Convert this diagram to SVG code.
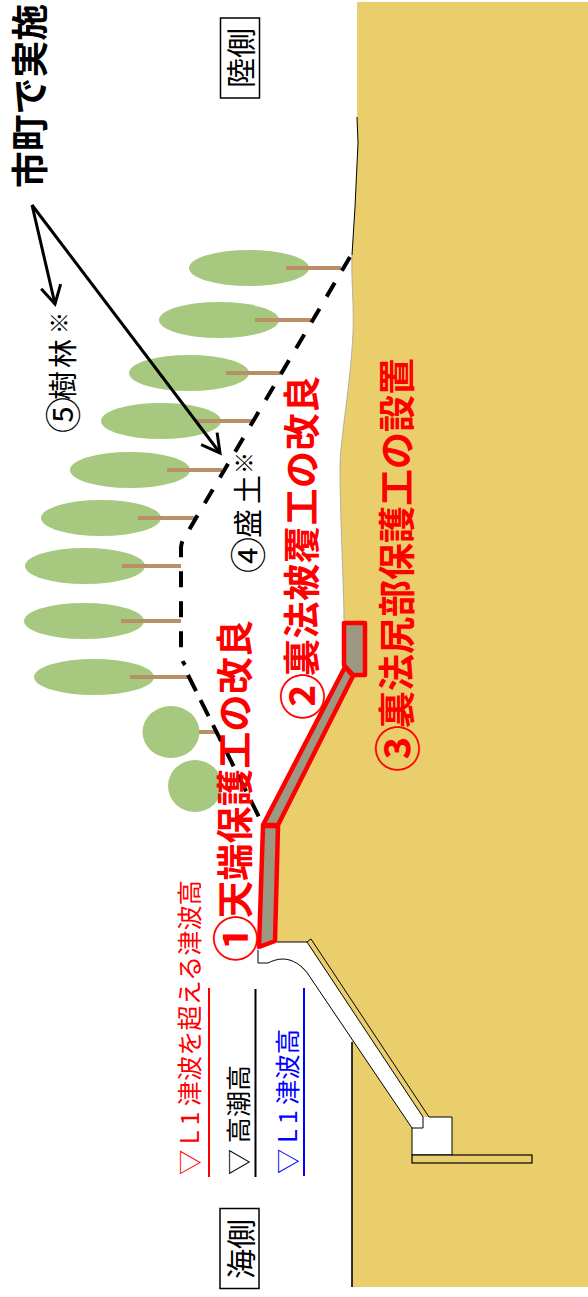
<svg xmlns="http://www.w3.org/2000/svg" width="588" height="1297" viewBox="0 0 588 1297">
<style>
text{font-family:"Noto Sans CJK JP","Noto Sans",sans-serif;text-anchor:start}
.b{font-weight:700;font-size:37px}
.c{font-size:47px}
.r{fill:#f00}
.k{fill:#000}
.u{fill:#00f}
.n{font-size:25px}
.tree{fill:#a6c97f}
.trunk{stroke:#b98f68;stroke-width:4;fill:none}
.thin{stroke:#000;stroke-width:1;fill:none}
.lvl{stroke-width:2;fill:none}
.dam{fill:#9c9882;stroke:#f00;stroke-width:4.500;stroke-linejoin:round}
.dash{fill:none;stroke:#000;stroke-width:4}
</style>
<defs>
<marker id="a" markerUnits="userSpaceOnUse" markerWidth="26" markerHeight="26" refX="21" refY="13" orient="auto"><path d="M3,3 L21,13 L3,23" fill="none" stroke="#000" stroke-width="3"/></marker>
</defs>
<g id="ground">
<path d="M357,2 L588,2 L588,1287 L352,1287 L352,1040 L310,977 L277,942 L278,825 L345,667 L344,620 C344,590 340,520 340,467 C340,440 350,390 353,333 C354,300 351,280 352,255 L355,207 L358,143 L357,117 Z" fill="#eace6c"/>
<path d="M357,117 L358,143 L355,207 L352,255" class="thin" stroke-width="1.200"/>
<path d="M344,620 C344,590 340,520 340,467 C340,440 350,390 353,333 C354,300 351,280 352,255" fill="none" stroke="#999" stroke-width="0.700"/>
<path d="M352,1042 L352,1287" fill="none" stroke="#000" stroke-width="1.600"/>
</g>
<g id="seawall">
<path d="M258,950 L258,963 L268,963 C272,961 277,959 283,959 C292,959 303,965 310,977 L412,1128 L412,1155 L452,1155 L452,1117 L423,1117 L307,942 L277,942 Z" fill="#fff"/>
<path d="M277,942 L307,942 L311,939 L429,1117 L452,1117 L452,1155 L412,1155 L412,1128 L310,977 C303,965 292,959 283,959 C277,959 272,961 268,963 L258,963 L258,950" class="thin"/>
<path d="M307,942 L423,1117 L423,1128 L412,1128" class="thin"/>
<rect x="412" y="1155" width="120" height="8" fill="#eace6c" stroke="#000" stroke-width="1.200"/>
</g>
<g id="trees">
<ellipse class="tree" cx="249" cy="268" rx="60" ry="18"/>
<ellipse class="tree" cx="219" cy="320" rx="60" ry="18"/>
<ellipse class="tree" cx="189" cy="373" rx="60" ry="18"/>
<ellipse class="tree" cx="161" cy="421" rx="60" ry="18"/>
<ellipse class="tree" cx="130" cy="470" rx="60" ry="18"/>
<ellipse class="tree" cx="101" cy="518" rx="60" ry="18"/>
<ellipse class="tree" cx="85" cy="566" rx="60" ry="18"/>
<ellipse class="tree" cx="84" cy="621" rx="60" ry="18"/>
<ellipse class="tree" cx="94" cy="677" rx="60" ry="18"/>
<ellipse class="tree" cx="171" cy="732" rx="28.500" ry="26"/>
<ellipse class="tree" cx="195" cy="786" rx="27" ry="26"/>
<path class="trunk" d="M286,268H341M255,320H311M226,373H281M195,421H253M167,470H222M138,518H195M122,566H181M121,621H181M130,677H189M199,732H218"/>
</g>
<g id="connectors">
<path class="dash" d="M350,257 L186,535 Q181,542 181,548 L181,652 Q181,660 185,665" stroke-dasharray="16 14"/>
<path class="dash" d="M188,675 L262,823" stroke-dasharray="18 10"/>
<path d="M32,205 L55,304" fill="none" stroke="#000" stroke-width="3" marker-end="url(#a)"/>
<path d="M32,205 L220,453" fill="none" stroke="#000" stroke-width="3" marker-end="url(#a)"/>
</g>
<g id="measures">
<polygon class="dam" points="344,623 365,623 365,675 353,675 344,665"/>
<polygon class="dam" points="345,667 353,676 278,825 263,825"/>
<polygon class="dam" points="263,826 278,826 275,941 259,947"/>
</g>
<g id="levels">
<path class="lvl" stroke="#f00" d="M209,988V1177"/>
<path class="lvl" stroke="#000" d="M255.500,989V1177"/>
<path class="lvl" stroke="#00f" d="M304,988V1176"/>
<text class="n r" transform="translate(199,1175) rotate(-90)" textLength="295" lengthAdjust="spacingAndGlyphs">▽ <tspan letter-spacing="5">L1</tspan>津波を超える津波高</text>
<text class="n k" transform="translate(248,1175) rotate(-90)" textLength="110" lengthAdjust="spacingAndGlyphs">▽ 高潮高</text>
<text class="n u" transform="translate(297,1174) rotate(-90)" textLength="145" lengthAdjust="spacingAndGlyphs">▽ <tspan letter-spacing="5">L1</tspan>津波高</text>
</g>
<g id="labels">
<text class="b r" transform="translate(249,958) rotate(-90)"><tspan class="c" x="-4" dy="4">①</tspan><tspan x="40" dy="-4" letter-spacing="0.300">天端保護工の改良</tspan></text>
<text class="b r" transform="translate(316,716) rotate(-90)"><tspan class="c" x="-4" dy="4">②</tspan><tspan x="40" dy="-4" letter-spacing="0.600">裏法被覆工の改良</tspan></text>
<text class="b r" transform="translate(411,768) rotate(-90)"><tspan class="c" x="-4" dy="4">③</tspan><tspan x="40" dy="-4">裏法尻部保護工の設置</tspan></text>
<text class="b k" transform="translate(44,188) rotate(-90)" textLength="184" lengthAdjust="spacingAndGlyphs">市町で実施</text>
<text class="k" font-size="29" transform="translate(259,572) rotate(-90)"><tspan font-size="36" x="-1" dy="3">④</tspan><tspan x="34" dy="-3">盛</tspan><tspan x="68">土</tspan><tspan x="98" font-size="22" dy="-7">※</tspan></text>
<text class="k" font-size="29" transform="translate(74,432) rotate(-90)"><tspan font-size="36" x="-1" dy="3">⑤</tspan><tspan x="32" dy="-3">樹</tspan><tspan x="64">林</tspan><tspan x="98" font-size="22" dy="-7">※</tspan></text>
</g>
<g id="side-land">
<rect x="220.500" y="18" width="39" height="80" fill="#fff" stroke="#000" stroke-width="1.500"/>
<text class="k" font-size="30" transform="translate(252,88) rotate(-90)" textLength="60" lengthAdjust="spacingAndGlyphs">陸側</text>
</g>
<g id="side-sea">
<rect x="220" y="1208.500" width="39" height="80" fill="#fff" stroke="#000" stroke-width="1.500"/>
<text class="k" font-size="30" transform="translate(252,1279) rotate(-90)" textLength="60" lengthAdjust="spacingAndGlyphs">海側</text>
</g>
</svg>
